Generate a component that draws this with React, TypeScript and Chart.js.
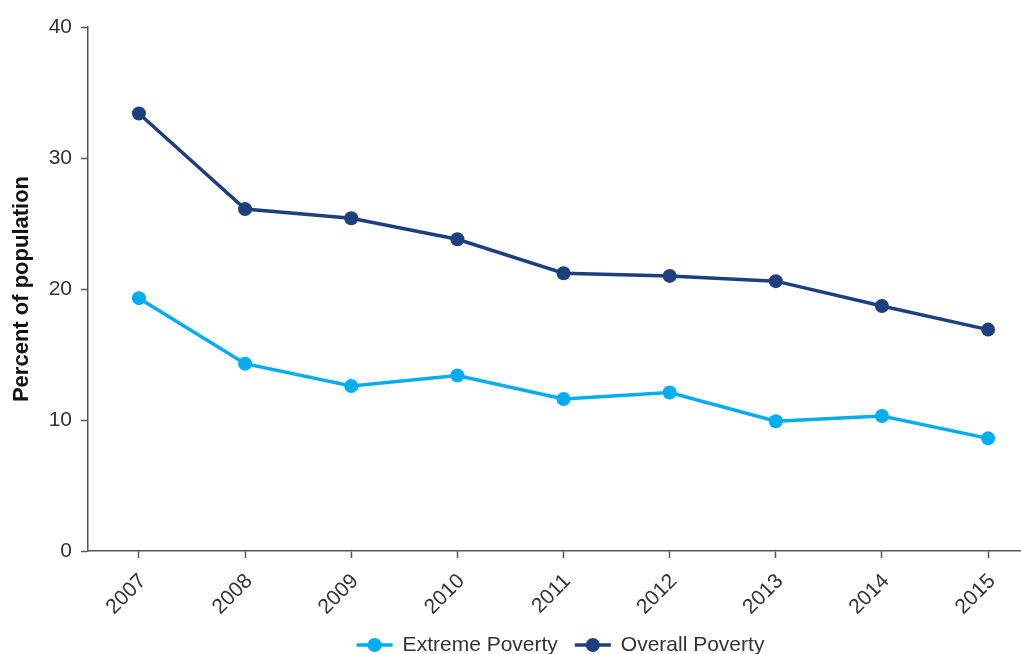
import React, { useEffect, useRef } from "react";
import { Chart, registerables } from "chart.js";

Chart.register(...registerables);

const years = [2007, 2008, 2009, 2010, 2011, 2012, 2013, 2014, 2015];
const extremePoverty = [19.3, 14.3, 12.6, 13.4, 11.6, 12.1, 9.9, 10.3, 8.6];
const overallPoverty = [33.4, 26.1, 25.4, 23.8, 21.2, 21.0, 20.6, 18.7, 16.9];
const seriesNames = ["Extreme Poverty", "Overall Poverty"];
const seriesColors = ["#00AEEF", "#1E3F7E"];
const yTitle = "Percent of population";

const FONT = "'Liberation Sans', Arial, sans-serif";
const TEXT = "#333333";
const AXIS = "#555555";

// Legend drawn below the axis: a short line with a dot, then the series name
const lineLegend = {
  id: "lineLegend",
  afterDraw(chart: any) {
    const ctx = chart.ctx as CanvasRenderingContext2D;
    const y = 645;
    ctx.save();
    ctx.font = `21px ${FONT}`;
    ctx.textBaseline = "middle";
    const items = chart.data.datasets.map((ds: any) => ({
      label: ds.label as string,
      color: ds.borderColor as string,
    }));
    const swatch = 36;
    const gapText = 10;
    const gapItem = 17;
    const widths = items.map((it: any) => swatch + gapText + ctx.measureText(it.label).width);
    const total = widths.reduce((a: number, b: number) => a + b, 0) + gapItem * (items.length - 1);
    const area = chart.chartArea;
    let x = (area.left + area.right - total) / 2 + 6;
    items.forEach((it: any, i: number) => {
      ctx.strokeStyle = it.color;
      ctx.lineWidth = 3.5;
      ctx.beginPath();
      ctx.moveTo(x, y);
      ctx.lineTo(x + swatch, y);
      ctx.stroke();
      ctx.fillStyle = it.color;
      ctx.beginPath();
      ctx.arc(x + swatch / 2, y, 7, 0, Math.PI * 2);
      ctx.fill();
      ctx.fillStyle = TEXT;
      ctx.textAlign = "left";
      ctx.fillText(it.label, x + swatch + gapText, y);
      x += widths[i] + gapItem;
    });
    ctx.restore();
  },
};

export default function App() {
  const canvasRef = useRef<HTMLCanvasElement | null>(null);

  useEffect(() => {
    if (!canvasRef.current) return;
    const toPoints = (vals: number[]) => years.map((yr, i) => ({ x: yr, y: vals[i] }));
    const chart = new Chart(canvasRef.current, {
      type: "line",
      data: {
        datasets: [
          {
            label: seriesNames[0],
            data: toPoints(extremePoverty),
            borderColor: seriesColors[0],
            backgroundColor: seriesColors[0],
            borderWidth: 3.5,
            pointRadius: 7,
            pointHoverRadius: 7,
            pointBorderWidth: 0,
            tension: 0,
          },
          {
            label: seriesNames[1],
            data: toPoints(overallPoverty),
            borderColor: seriesColors[1],
            backgroundColor: seriesColors[1],
            borderWidth: 3.5,
            pointRadius: 7,
            pointHoverRadius: 7,
            pointBorderWidth: 0,
            tension: 0,
          },
        ],
      },
      options: {
        animation: false,
        responsive: false,
        maintainAspectRatio: false,
        layout: { autoPadding: false, padding: { top: 27, right: 0, bottom: 0, left: 0 } },
        plugins: {
          legend: { display: false },
          tooltip: { enabled: false },
        },
        scales: {
          x: {
            type: "linear",
            min: 2006.52,
            max: 2015.31,
            afterBuildTicks: (scale: any) => {
              scale.ticks = years.map((v) => ({ value: v }));
            },
            afterFit: (scale: any) => {
              scale.height = 103;
              scale.paddingLeft = 0;
              scale.paddingRight = 0;
            },
            border: { display: true, color: AXIS, width: 1.5 },
            grid: {
              display: true,
              drawOnChartArea: false,
              drawTicks: true,
              tickLength: 7,
              tickColor: AXIS,
              tickWidth: 1.5,
            },
            ticks: {
              autoSkip: false,
              maxRotation: 45,
              minRotation: 45,
              padding: 11,
              labelOffset: 4,
              color: TEXT,
              font: { family: FONT, size: 21 },
              callback: (v: any) => String(v),
            },
          },
          y: {
            min: 0,
            max: 40,
            afterFit: (scale: any) => {
              scale.width = 88;
              scale.paddingTop = 0;
              scale.paddingBottom = 0;
            },
            border: { display: true, color: AXIS, width: 1.5 },
            grid: {
              display: true,
              drawOnChartArea: false,
              drawTicks: true,
              tickLength: 7,
              tickColor: AXIS,
              tickWidth: 1.5,
            },
            ticks: {
              stepSize: 10,
              padding: 9,
              color: TEXT,
              font: { family: FONT, size: 21 },
            },
            title: {
              display: true,
              text: yTitle,
              color: "#111111",
              font: { family: FONT, size: 22, weight: "bold" },
              padding: { top: 9, bottom: 4 },
            },
          },
        },
      },
      plugins: [lineLegend],
    });
    return () => chart.destroy();
  }, []);

  return (
    <div style={{ position: "fixed", left: 0, top: 0, width: 1021, height: 654, background: "#ffffff" }}>
      <canvas ref={canvasRef} width={1021} height={654} style={{ width: 1021, height: 654 }} />
    </div>
  );
}
